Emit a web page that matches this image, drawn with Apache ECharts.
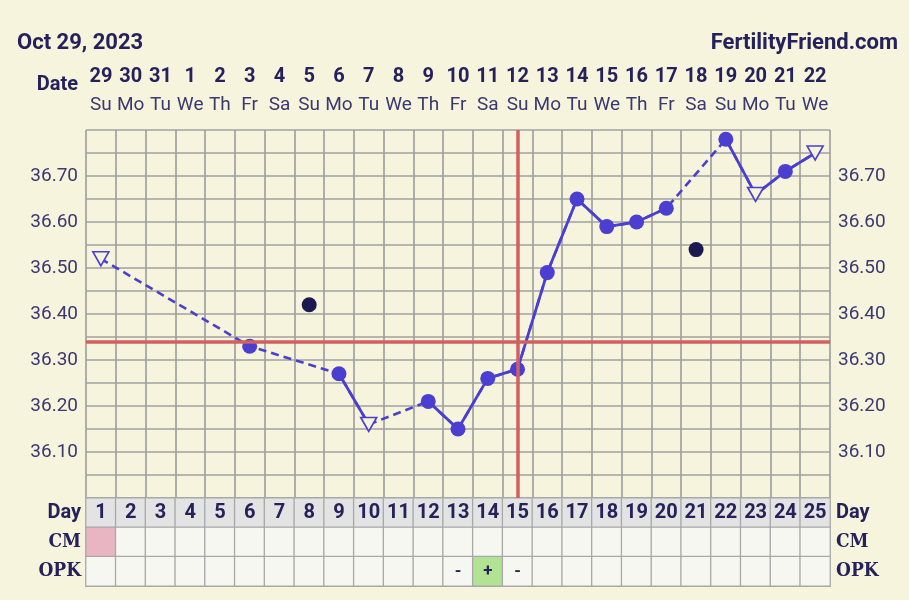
<!DOCTYPE html>
<html><head><meta charset="utf-8">
<script src="https://cdn.jsdelivr.net/npm/echarts@6/dist/echarts.min.js"></script>
<style>html,body{margin:0;padding:0;background:#f7f4de;}#c{width:909px;height:600px;}</style>
</head><body><div id="c"></div>
<script>
// ---- data ----
const titleLeft = 'Oct 29, 2023';
const titleRight = 'FertilityFriend.com';
const dates = ['29','30','31','1','2','3','4','5','6','7','8','9','10','11','12','13','14','15','16','17','18','19','20','21','22'];
const weekdays = ['Su','Mo','Tu','We','Th','Fr','Sa','Su','Mo','Tu','We','Th','Fr','Sa','Su','Mo','Tu','We','Th','Fr','Sa','Su','Mo','Tu','We'];
const cycleDays = [1,2,3,4,5,6,7,8,9,10,11,12,13,14,15,16,17,18,19,20,21,22,23,24,25];
const temps = [36.52,null,null,null,null,36.33,null,null,36.27,36.16,null,36.21,36.15,36.26,36.28,36.49,36.65,36.59,36.60,36.63,null,36.78,36.66,36.71,36.75];
const openMarkerDays = [1,10,23,25];
const discardedTemps = [null,null,null,null,null,null,null,36.42,null,null,null,null,null,null,null,null,null,null,null,null,36.54,null,null,null,null];
const cmValues = ['menses','','','','','','','','','','','','','','','','','','','','','','','',''];
const opkValues = ['','','','','','','','','','','','','-','+','-','','','','','','','','','',''];
const tableRows = ['Day','CM','OPK'];
const coverline = 36.34;
const ovulationDay = 15;
const yMin = 36.00, yMax = 36.80, yStep = 0.05;

// ---- styles ----
const navy = '#25215a';
const lineColor = '#4a3fd0';
const gridColor = '#a0a0a0';
const bg = '#f7f4de';
const redColor = '#d2605e';
const serif = "'DejaVu Serif Condensed', 'DejaVu Serif', serif";

const tempData = temps.map((t, i) => {
  if (t === null) return null;
  if (openMarkerDays.indexOf(cycleDays[i]) >= 0) {
    return { value: t, symbol: 'triangle', symbolRotate: 180, symbolSize: [16, 14],
      itemStyle: { color: bg, borderColor: lineColor, borderWidth: 1.6 } };
  }
  return { value: t };
});

const cells = [];
const cellTexts = [];
cycleDays.forEach((d, i) => {
  cells.push({ value: [i, 0, 1], itemStyle: { color: '#e3e3e3' }, label: { fontSize: 20 } });
  cellTexts.push(String(d));
  cells.push({ value: [i, 1, 1], itemStyle: { color: cmValues[i] === 'menses' ? '#e9b5c2' : '#f7f7f2' } });
  cellTexts.push('');
  cells.push({ value: [i, 2, 1], itemStyle: { color: opkValues[i] === '+' ? '#b2e293' : '#f7f7f2' }, label: { fontSize: 17 } });
  cellTexts.push(opkValues[i]);
});

const chart = echarts.init(document.getElementById('c'), null, { renderer: 'canvas' });
const yLabelFmt = v => {
  const k = Math.round(v * 100);
  if (k % 10 !== 0 || k <= 3600 || k >= 3680) return '';
  return v.toFixed(2);
};
const tableLabelFmt = v => v === 'Day' ? '{s|Day}' : '{r|' + v + '}';
const tableRich = {
  s: { fontFamily: 'Roboto', fontWeight: 'bold', fontSize: 20, color: navy },
  r: { fontFamily: serif, fontWeight: 'bold', fontSize: 19, color: navy }
};

chart.setOption({
  backgroundColor: bg,
  animation: false,
  textStyle: { fontFamily: 'Roboto' },
  title: [
    { text: titleLeft, left: 12, top: 27, textStyle: { fontFamily: 'Roboto', fontWeight: 'bold', fontSize: 22, color: navy } },
    { text: titleRight, right: 6, top: 27, textStyle: { fontFamily: 'Roboto', fontWeight: 'bold', fontSize: 22, color: navy } }
  ],
  graphic: [
    { type: 'text', right: 831, top: 75, style: { text: 'Date', fontFamily: 'Roboto', fontWeight: 'bold', fontSize: 20, fill: navy } }
  ],
  grid: [
    { left: 86, right: 79, top: 130, bottom: 102, show: false },
    { left: 86, right: 79, top: 498, height: 88, show: false }
  ],
  xAxis: [
    { type: 'category', gridIndex: 0, position: 'top', data: dates, boundaryGap: true,
      axisLine: { show: false }, axisTick: { show: false },
      splitLine: { show: true, interval: 0, lineStyle: { color: gridColor, width: 1.7 } },
      axisLabel: { interval: 0, margin: 11,
        formatter: (v, i) => '{d|' + dates[i] + '}\n{w|' + weekdays[i] + '}',
        rich: {
          d: { fontFamily: 'Roboto', fontWeight: 'bold', fontSize: 20, color: navy, lineHeight: 28 },
          w: { fontFamily: 'Roboto', fontSize: 19, color: '#3b3870', lineHeight: 28 }
        } } },
    { type: 'category', gridIndex: 1, data: cycleDays.map(String), show: false }
  ],
  yAxis: [
    { type: 'value', gridIndex: 0, min: yMin, max: yMax, interval: yStep,
      axisLine: { show: false }, axisTick: { show: false },
      splitLine: { show: true, lineStyle: { color: gridColor, width: 1.7 } },
      axisLabel: { margin: 8, fontSize: 19, color: '#3b3870', formatter: yLabelFmt, showMinLabel: true, showMaxLabel: true } },
    { type: 'value', gridIndex: 0, position: 'right', min: yMin, max: yMax, interval: yStep,
      axisLine: { show: false }, axisTick: { show: false }, splitLine: { show: false },
      axisLabel: { margin: 8, fontSize: 19, color: '#3b3870', formatter: yLabelFmt } },
    { type: 'category', gridIndex: 1, data: tableRows, inverse: true,
      axisLine: { show: false }, axisTick: { show: false }, splitLine: { show: false },
      axisLabel: { margin: 5, formatter: tableLabelFmt, rich: tableRich } },
    { type: 'category', gridIndex: 1, data: tableRows, inverse: true, position: 'right',
      axisLine: { show: false }, axisTick: { show: false }, splitLine: { show: false },
      axisLabel: { margin: 6, align: 'left', formatter: tableLabelFmt, rich: tableRich } }
  ],
  series: [
    { type: 'line', name: 'refs', xAxisIndex: 0, yAxisIndex: 0, data: [], z: 1, silent: true,
      markLine: { silent: true, symbol: 'none', label: { show: false },
        lineStyle: { color: redColor, width: 3.5, type: 'solid', opacity: 1 }, emphasis: { disabled: true },
        data: [ { yAxis: coverline }, { xAxis: ovulationDay - 1 } ] } },
    { type: 'line', name: 'gaps', xAxisIndex: 0, yAxisIndex: 0, data: temps, connectNulls: true,
      showSymbol: false, z: 2, silent: true,
      lineStyle: { color: lineColor, width: 2.6, type: [8, 5] } },
    { type: 'line', name: 'temps', xAxisIndex: 0, yAxisIndex: 0, data: tempData, connectNulls: false,
      showSymbol: true, showAllSymbol: true, symbol: 'circle', symbolSize: 15, z: 4, silent: true,
      itemStyle: { color: lineColor }, lineStyle: { color: lineColor, width: 2.8 } },
    { type: 'scatter', name: 'discarded', xAxisIndex: 0, yAxisIndex: 0, data: discardedTemps,
      symbolSize: 15, z: 4, silent: true, itemStyle: { color: '#1c1850', opacity: 1 } },
    { type: 'heatmap', name: 'table', xAxisIndex: 1, yAxisIndex: 2, data: cells, silent: true,
      emphasis: { disabled: true },
      itemStyle: { borderColor: '#a8a8a8', borderWidth: 1.3 },
      label: { show: true, color: navy, fontFamily: 'Roboto', fontWeight: 'bold', fontSize: 20,
        formatter: p => cellTexts[p.dataIndex] } }
  ]
});
</script></body></html>
